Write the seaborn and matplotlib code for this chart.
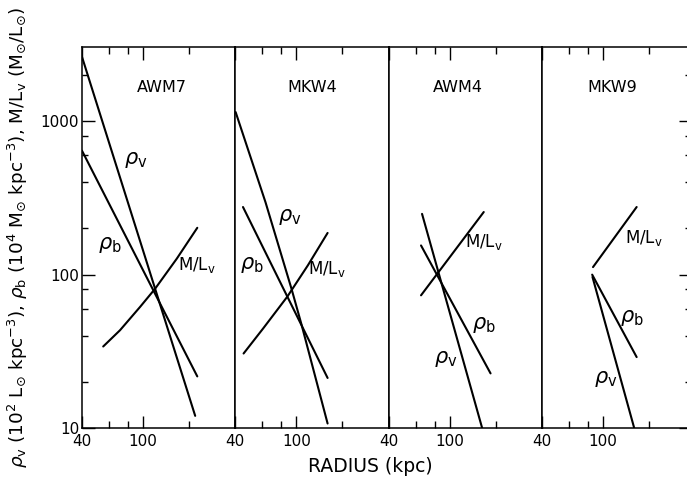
import numpy as np
import pandas as pd
import matplotlib
matplotlib.use("Agg")
import matplotlib.pyplot as plt
import seaborn as sns
from matplotlib.ticker import FixedLocator, NullFormatter, FixedFormatter

sns.set_style("ticks")
plt.rcParams['font.family'] = ['DejaVu Sans']
plt.rcParams['mathtext.fontset'] = 'dejavusans'
plt.rcParams['text.color'] = 'black'
plt.rcParams['xtick.color'] = 'black'
plt.rcParams['ytick.color'] = 'black'

# ---- data (radius kpc, value) ----
clusters = ["AWM7", "MKW4", "AWM4", "MKW9"]

awm7_rhov_r = [40, 219]
awm7_rhov = [2630, 12.0]
awm7_rhob_r = [40, 226]
awm7_rhob = [643, 21.7]
awm7_ml_r = [55, 70.8, 95.7, 120, 166, 226]
awm7_ml = [34, 43.4, 61.6, 81, 127, 202]

mkw4_rhov_r = [40.2, 63, 93, 108, 160]
mkw4_rhov = [1148, 296, 81, 47.5, 10.7]
mkw4_rhob_r = [44.9, 160]
mkw4_rhob = [276, 21.2]
mkw4_ml_r = [45.3, 60.7, 87.5, 119, 160]
mkw4_ml = [30.6, 44.5, 72, 115, 187]

awm4_rhov_r = [66.1, 163]
awm4_rhov = [249, 10.0]
awm4_rhob_r = [65.1, 185]
awm4_rhob = [155, 22.7]
awm4_ml_r = [65.1, 167]
awm4_ml = [73.3, 256]

mkw9_rhov_r = [85.5, 160]
mkw9_rhov = [96.6, 10.0]
mkw9_rhob_r = [85.1, 166]
mkw9_rhob = [100, 29]
mkw9_ml_r = [86.2, 166]
mkw9_ml = [112, 276]

x_ticks = [40, 100]
x_ticklabels = ["40", "100"]
y_ticks = [10, 100, 1000]
y_ticklabels = ["10", "100", "1000"]

series = {
    "AWM7": [(awm7_rhov_r, awm7_rhov), (awm7_rhob_r, awm7_rhob), (awm7_ml_r, awm7_ml)],
    "MKW4": [(mkw4_rhov_r, mkw4_rhov), (mkw4_rhob_r, mkw4_rhob), (mkw4_ml_r, mkw4_ml)],
    "AWM4": [(awm4_rhov_r, awm4_rhov), (awm4_rhob_r, awm4_rhob), (awm4_ml_r, awm4_ml)],
    "MKW9": [(mkw9_rhov_r, mkw9_rhov), (mkw9_rhob_r, mkw9_rhob), (mkw9_ml_r, mkw9_ml)],
}

RHOV = r'$\rho_{\mathrm{v}}$'
RHOB = r'$\rho_{\mathrm{b}}$'
ML = r'M/L$_{\mathrm{v}}$'
labels = {
    "AWM7": [(RHOV, 90, 556), (RHOB, 61, 155), (ML, 226, 115)],
    "MKW4": [(RHOV, 91, 237), (RHOB, 51, 115), (ML, 158, 109)],
    "AWM4": [(ML, 167, 163), (RHOB, 167, 47), (RHOV, 94, 28)],
    "MKW9": [(ML, 184, 173), (RHOB, 155, 52), (RHOV, 104, 21)],
}
title_x = {"AWM7": 0.52, "MKW4": 0.50, "AWM4": 0.455, "MKW9": 0.47}

W, H = 687, 479
fig = plt.figure(figsize=(W / 100, H / 100), dpi=100)

left0 = 82
pw = 153.3
bottom_px = 428
top_px = 47
xmin = 40
lw = 1.5
for i, name in enumerate(clusters):
    lpx = left0 + i * pw
    wpx = pw if i < 3 else 691 - lpx
    ax = fig.add_axes([lpx / W, (H - bottom_px) / H, wpx / W, (bottom_px - top_px) / H])
    ax.set_xscale('log')
    ax.set_yscale('log')
    ax.set_xlim(xmin, 40 * 10 ** (wpx / pw))
    ax.set_ylim(10, 3050)
    for r, v in series[name]:
        df = pd.DataFrame({"r": r, "v": v})
        sns.lineplot(data=df, x="r", y="v", ax=ax, color="black", lw=lw,
                     estimator=None, sort=False, legend=False)
    for txt, xx, yy in labels[name]:
        fs = 15 if 'rho' in txt else 12
        ax.text(xx, yy, txt, ha='center', va='center', fontsize=fs)
    ax.text(title_x[name], 0.895, name, transform=ax.transAxes,
            ha='center', va='center', fontsize=11.5)
    ax.set_xlabel('')
    ax.set_ylabel('')
    # x ticks
    ax.xaxis.set_major_locator(FixedLocator(x_ticks))
    ax.xaxis.set_major_formatter(FixedFormatter(x_ticklabels))
    ax.xaxis.set_minor_locator(FixedLocator([60, 80, 200, 400]))
    ax.xaxis.set_minor_formatter(NullFormatter())
    ax.tick_params(axis='x', which='both', direction='in', top=True, bottom=True,
                   labelsize=11, pad=4, width=1.0, color='black', labelcolor='black')
    ax.tick_params(axis='x', which='major', length=9)
    ax.tick_params(axis='x', which='minor', length=5)
    # y ticks
    ax.yaxis.set_major_locator(FixedLocator(y_ticks))
    ax.yaxis.set_major_formatter(FixedFormatter(y_ticklabels))
    ax.yaxis.set_minor_locator(FixedLocator([20, 40, 60, 80, 200, 400, 600, 800, 2000]))
    ax.yaxis.set_minor_formatter(NullFormatter())
    ax.tick_params(axis='y', which='both', direction='in',
                   left=(i == 0), right=(i == 3), labelleft=(i == 0), labelright=False,
                   labelsize=11, pad=2, width=1.0, color='black', labelcolor='black')
    ax.tick_params(axis='y', which='major', length=9)
    ax.tick_params(axis='y', which='minor', length=4)
    for s in ax.spines.values():
        s.set_linewidth(1.1)
        s.set_color('black')
        s.set_visible(True)

fig.text(370 / W, (H - 466) / H, 'RADIUS (kpc)', ha='center', va='center', fontsize=13.5)
fig.text(18 / W, (H - 237) / H,
         r'$\rho_{\mathrm{v}}$ (10$^2$ L$_{\odot}$ kpc$^{-3}$), $\rho_{\mathrm{b}}$ (10$^4$ M$_{\odot}$ kpc$^{-3}$), M/L$_{\mathrm{v}}$ (M$_{\odot}$/L$_{\odot}$)',
         rotation=90, ha='center', va='center', fontsize=13.2)

fig.savefig('out.png', dpi=100)
